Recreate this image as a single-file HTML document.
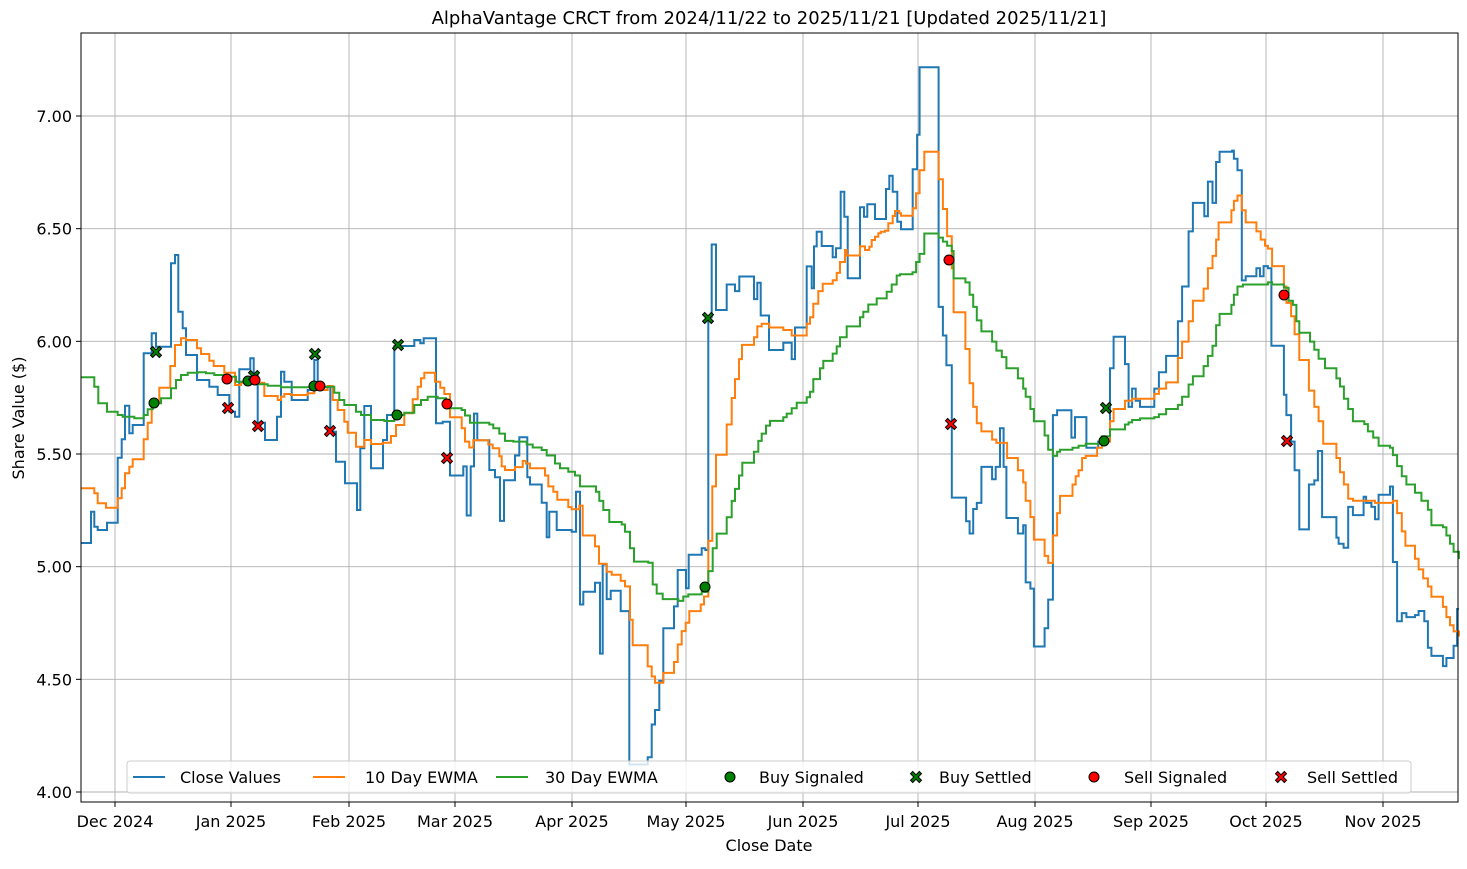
<!DOCTYPE html>
<html><head><meta charset="utf-8"><style>
body{margin:0;background:#fff;}
svg text{font-family:"DejaVu Sans","Liberation Sans",sans-serif;fill:#000;}
</style></head><body>
<svg id="s" width="1467" height="864" xmlns="http://www.w3.org/2000/svg">
<rect width="1467" height="864" fill="#fff"/>
<g id="grid" stroke="#b0b0b0" stroke-width="0.9"></g>
<g id="lines" fill="none" stroke-width="2"></g>
<g id="marks"></g>
<rect x="81" y="33" width="1377" height="769" fill="none" stroke="#000" stroke-width="1"/>
<g id="ticks" font-size="16"></g>
<text x="769" y="24" font-size="18" text-anchor="middle">AlphaVantage CRCT from 2024/11/22 to 2025/11/21 [Updated 2025/11/21]</text>
<text x="769" y="851" font-size="16" text-anchor="middle">Close Date</text>
<text transform="translate(24,418) rotate(-90)" font-size="16" text-anchor="middle">Share Value ($)</text>
<g id="legend" font-size="16">
<rect x="127" y="761" width="1284" height="32" rx="3" fill="#fff" fill-opacity="0.8" stroke="#ccc"/>
<line x1="133" y1="777" x2="165" y2="777" stroke="#1f77b4" stroke-width="2"/><text x="180" y="783">Close Values</text>
<line x1="313" y1="777" x2="345" y2="777" stroke="#ff7f0e" stroke-width="2"/><text x="365" y="783">10 Day EWMA</text>
<line x1="496" y1="777" x2="528" y2="777" stroke="#2ca02c" stroke-width="2"/><text x="545" y="783">30 Day EWMA</text>
<text x="759" y="783">Buy Signaled</text>
<text x="939" y="783">Buy Settled</text>
<text x="1124" y="783">Sell Signaled</text>
<text x="1307" y="783">Sell Settled</text>
</g>
</svg>
<script>
var NS="http://www.w3.org/2000/svg";
function el(p,t,a){var e=document.createElementNS(NS,t);for(var k in a)e.setAttribute(k,a[k]);p.appendChild(e);return e;}
var g=document.getElementById('grid'),tk=document.getElementById('ticks');
var xs=[[115,"Dec 2024"],[231,"Jan 2025"],[349,"Feb 2025"],[455,"Mar 2025"],[572,"Apr 2025"],[686,"May 2025"],[803,"Jun 2025"],[918,"Jul 2025"],[1035,"Aug 2025"],[1151,"Sep 2025"],[1266,"Oct 2025"],[1383,"Nov 2025"]];
xs.forEach(function(d){el(g,'line',{x1:d[0],x2:d[0],y1:33,y2:802});el(tk,'line',{x1:d[0],x2:d[0],y1:802,y2:807,stroke:'#000'});var t=el(tk,'text',{x:d[0],y:827,'text-anchor':'middle'});t.textContent=d[1];});
for(var i=0;i<7;i++){var v=4+i*0.5,y=792-(v-4)*225.33;el(g,'line',{x1:81,x2:1458,y1:y,y2:y});el(tk,'line',{x1:76,x2:81,y1:y,y2:y,stroke:'#000'});var t=el(tk,'text',{x:72,y:y+6,'text-anchor':'end'});t.textContent=v.toFixed(2);}
function tr(arr,ox,oy,sx,sy){return arr.map(function(p){return [ox+p[0]/sx,oy+p[1]/sy];});}
function seg(a,lo,hi){return a.filter(function(p){return p[0]>=lo&&p[0]<hi;});}
var bA=tr([[0,909],[30,815],[40,860],[50,870],[78,848],[110,653],[122,598],[132,497],[145,580],[155,555],[188,340],[212,280],[225,320],[270,70],[282,45],[292,215],[305,265],[315,345],[348,420],[385,440],[410,465],[445,515],[462,530],[475,388],[508,355],[518,400],[530,548],[552,600],[588,530],[600,395],[610,425],[632,480],[680,450],[700,360],[710,440],[748,575],[765,665],[792,730],[828,810],[838,625],[850,498],[870,685],[906,600],[918,525],[940,318],[1000,300],[1018,310],[1028,295],[1065,550],[1085,545],[1110,705]],81,240,3,3);
var bB=tr([[0,675],[40,650],[50,785],[62,650],[72,505],[82,578],[118,660],[135,680],[150,800],[162,688],[195,620],[208,570],[232,680],[240,700],[275,750],[290,845],[298,775],[320,825],[365,830],[378,720],[390,1030],[400,995],[435,970],[450,1165],[458,920],[470,1015],[482,992],[512,1048],[538,1470],[593,1450],[605,1360],[615,1320],[628,1240],[640,1095],[672,1035],[683,935],[708,985],[716,893],[755,875],[766,880],[775,240],[785,40],[798,220],[830,150],[855,168],[868,128],[912,190],[922,145],[932,235],[957,330],[1000,310],[1025,355],[1035,268],[1070,100],[1085,160],[1092,45],[1100,5]],450,230,3,2.75);
var bD=tr([[20,348],[32,415],[42,288],[55,245],[65,288],[98,322],[108,295],[122,125],[133,200],[143,385],[180,172],[192,200],[202,163],[225,207],[258,117],[268,77],[278,125],[292,215],[303,238],[338,58]],800,150,3,3);
var bC=tr([[35,262],[48,183],[55,18],[108,605],[120,675],[130,748],[145,1072],[185,1130],[195,1160],[205,1100],[215,1085],[228,997],[258,1027],[268,997],[280,902],[290,997],[298,1122],[330,1160],[345,1140],[352,1280],[365,1295],[375,1437],[405,1392],[415,1322],[428,870],[440,858],[480,925],[490,875],[500,875],[510,875],[522,950],[555,935],[565,930],[588,755],[598,678],[630,745],[640,850],[650,805],[660,835],[672,850],[712,805],[725,765],[745,725],[778,640],[790,555],[808,420],[820,350],[852,383],[862,298],[875,350],[885,250],[895,225],[930,222],[935,242],[945,270],[957,540],[968,530],[998,510],[1008,530],[1018,505],[1030,510],[1040,700],[1075,820],[1082,870],[1095,935],[1105,1005],[1118,1150],[1145,1040],[1160,1030],[1170,958],[1182,1120],[1222,1170],[1228,1185],[1242,1195],[1255,1095],[1268,1115],[1298,1070],[1305,1085],[1320,1095],[1330,1125],[1340,1065],[1372,1045],[1380,1230],[1392,1375],[1405,1355],[1418,1365],[1442,1360],[1452,1350],[1468,1375],[1478,1440],[1488,1460],[1520,1485],[1530,1465],[1550,1435],[1560,1345],[1565,1345]],900,60,2.8,2.45);
var blue=seg(bA,0,450).concat(seg(bB,450,817),seg(bD,817,913),seg(bC,913,2000));
var oA=tr([[0,745],[30,745],[40,760],[50,790],[75,803],[110,775],[122,745],[132,700],[145,680],[155,658],[188,598],[200,548],[212,488],[235,443],[268,378],[282,315],[300,295],[315,300],[348,325],[360,342],[385,362],[398,378],[430,398],[462,435],[480,428],[550,468],[590,480],[600,470],[610,462],[630,465],[680,460],[700,450],[740,438],[755,480],[770,510],[790,545],[800,578],[825,620],[850,600],[870,612],[905,608],[930,588],[945,555],[970,520],[995,478],[1010,440],[1020,415],[1030,398],[1062,425],[1078,443],[1090,462],[1110,530],[1140,535]],81,240,3,3);
var oB=tr([[0,515],[35,545],[45,582],[58,598],[70,578],[115,590],[128,600],[148,622],[155,650],[165,660],[195,652],[218,635],[228,642],[240,655],[285,675],[295,705],[310,720],[322,742],[355,762],[365,768],[388,758],[398,840],[435,870],[447,918],[470,940],[485,948],[512,965],[525,980],[540,1072],[548,1142],[593,1200],[605,1228],[615,1245],[640,1218],[672,1188],[683,1140],[695,1103],[707,1080],[718,1048],[752,1030],[762,1008],[775,855],[787,705],[798,618],[830,535],[845,462],[855,410],[867,355],[876,316],[912,295],[922,265],[935,258],[958,268],[1000,275],[1025,290],[1035,290],[1070,258],[1080,240],[1090,203],[1105,168],[1118,148],[1148,138],[1160,118],[1170,88],[1185,55],[1190,70],[1230,45],[1245,22],[1255,10],[1310,0]],450,230,3,2.75);
var oD=tr([[185,320],[195,300],[208,290],[215,270],[225,260],[235,250],[242,245],[255,242],[265,220],[278,198],[285,183],[298,190],[303,197],[338,175],[348,130],[355,80]],800,150,3,3);
var oC=tr([[55,270],[68,225],[108,292],[120,365],[132,432],[145,510],[150,618],[183,708],[195,792],[205,850],[215,890],[228,910],[258,930],[270,938],[300,975],[330,1005],[345,1035],[352,1080],[365,1120],[375,1175],[405,1215],[415,1232],[428,1165],[440,1110],[448,1068],[483,1040],[492,1020],[500,1005],[510,975],[520,970],[552,950],[565,935],[588,885],[598,855],[630,835],[650,830],[712,818],[725,805],[745,790],[778,730],[790,690],[808,640],[820,590],[850,560],[862,510],[875,480],[885,440],[892,398],[928,368],[935,345],[945,332],[957,368],[968,398],[998,420],[1010,440],[1022,455],[1030,462],[1042,505],[1075,555],[1082,595],[1095,628],[1105,672],[1118,735],[1145,810],[1160,850],[1172,885],[1185,940],[1222,975],[1232,1010],[1243,1040],[1255,1075],[1268,1080],[1330,1085],[1380,1080],[1392,1110],[1405,1155],[1415,1190],[1442,1222],[1452,1248],[1465,1270],[1478,1290],[1488,1315],[1520,1340],[1530,1365],[1540,1385],[1550,1400],[1565,1410]],900,60,2.8,2.45);
var orange=seg(oA,0,450).concat(seg(oB,450,862),seg(oD,862,918),seg(oC,918,2000));
var gA=tr([[0,412],[30,412],[40,440],[52,490],[78,515],[110,525],[125,530],[160,535],[188,525],[200,508],[215,490],[240,475],[270,445],[285,420],[300,405],[320,398],[350,397],[375,400],[400,405],[440,410],[465,425],[520,433],[560,437],[600,442],[700,442],[740,440],[760,458],[775,480],[790,495],[825,515],[840,525],[870,540],[910,543],[940,525],[970,518],[1000,495],[1020,480],[1040,470],[1070,475],[1095,490],[1110,505],[1140,505]],81,240,3,3);
var gB=tr([[0,490],[35,495],[45,510],[60,530],[118,535],[130,545],[148,560],[165,580],[190,582],[230,590],[248,598],[275,605],[290,620],[315,642],[330,655],[355,665],[375,675],[390,705],[438,720],[448,745],[460,770],[478,803],[515,810],[525,830],[540,875],[552,912],[595,915],[608,975],[620,1000],[638,1015],[685,1020],[700,1008],[715,1002],[755,995],[775,938],[788,875],[800,835],[830,790],[845,745],[855,712],[867,675],[877,640],[912,610],[925,580],[935,560],[948,538],[960,525],[1000,515],[1010,505],[1025,490],[1040,475],[1070,460],[1080,445],[1090,410],[1110,380],[1120,360],[1148,340],[1160,320],[1170,295],[1190,265],[1230,240],[1240,225],[1255,205],[1280,188],[1310,170],[1325,150],[1340,125],[1355,115],[1390,100],[1405,72],[1420,40],[1430,10],[1440,10]],450,230,3,2.75);
var gC=tr([[0,525],[35,520],[45,495],[55,475],[68,425],[108,435],[120,445],[132,455],[145,468],[150,535],[183,545],[195,575],[205,605],[215,638],[228,665],[258,690],[270,712],[285,728],[298,755],[330,780],[345,805],[352,825],[365,855],[375,885],[405,920],[415,955],[428,970],[440,960],[448,955],[483,950],[500,945],[520,940],[555,940],[565,922],[588,905],[630,893],[640,888],[650,882],[672,878],[712,875],[725,868],[745,855],[778,845],[790,825],[808,795],[820,775],[850,750],[862,725],[875,700],[885,650],[895,622],[928,600],[935,575],[945,555],[960,550],[1000,550],[1030,545],[1042,550],[1075,558],[1088,590],[1100,600],[1110,640],[1118,668],[1148,690],[1160,710],[1172,732],[1190,755],[1222,780],[1232,800],[1243,830],[1255,855],[1268,885],[1300,892],[1310,910],[1325,925],[1340,945],[1372,950],[1380,968],[1392,995],[1405,1020],[1418,1040],[1442,1060],[1460,1080],[1478,1102],[1488,1140],[1520,1145],[1530,1165],[1540,1185],[1550,1205],[1565,1220]],900,60,2.8,2.45);
var green=seg(gA,0,450).concat(seg(gB,450,900),seg(gC,900,2000));
function step(a){var d='M'+a[0][0].toFixed(1)+' '+a[0][1].toFixed(1);for(var i=1;i<a.length;i++){d+=' H'+a[i][0].toFixed(1)+' V'+a[i][1].toFixed(1);}return d+' H1458';}
var L=document.getElementById('lines');
el(L,'path',{d:step(blue),stroke:'#1f77b4'});
el(L,'path',{d:step(orange),stroke:'#ff7f0e'});
el(L,'path',{d:step(green),stroke:'#2ca02c'});
var M=document.getElementById('marks');
function circ(x,y,c){el(M,'circle',{cx:x,cy:y,r:5,fill:c,stroke:'#000','stroke-width':1});}
function cross(x,y,c){var s=5.5,w=2.2;var p='M'+(x-s)+' '+(y-s+w)+' L'+(x-s+w)+' '+(y-s)+' L'+x+' '+(y-w)+' L'+(x+s-w)+' '+(y-s)+' L'+(x+s)+' '+(y-s+w)+' L'+(x+w)+' '+y+' L'+(x+s)+' '+(y+s-w)+' L'+(x+s-w)+' '+(y+s)+' L'+x+' '+(y+w)+' L'+(x-s+w)+' '+(y+s)+' L'+(x-s)+' '+(y+s-w)+' L'+(x-w)+' '+y+' Z';el(M,'path',{d:p,fill:c,stroke:'#000','stroke-width':1});}
[[154,403],[248,381],[314,386],[397,415],[705,587],[1104,441]].forEach(function(p){circ(p[0],p[1],'#008000');});
[[156,352],[254,376],[315,354],[398,345],[708,318],[1106,408]].forEach(function(p){cross(p[0],p[1],'#008000');});
[[227,379],[255,380],[320,386],[447,404],[949,260],[1284,295]].forEach(function(p){circ(p[0],p[1],'#ff0000');});
[[228,408],[258,426],[330,431],[447,458],[951,424],[1287,441]].forEach(function(p){cross(p[0],p[1],'#ff0000');});
var lg=document.getElementById('legend');
el(lg,'circle',{cx:730,cy:777,r:5,fill:'#008000',stroke:'#000'});
M=lg;cross(916,777,'#008000');
el(lg,'circle',{cx:1094,cy:777,r:5,fill:'#ff0000',stroke:'#000'});
cross(1281,777,'#ff0000');
</script>
</body></html>
